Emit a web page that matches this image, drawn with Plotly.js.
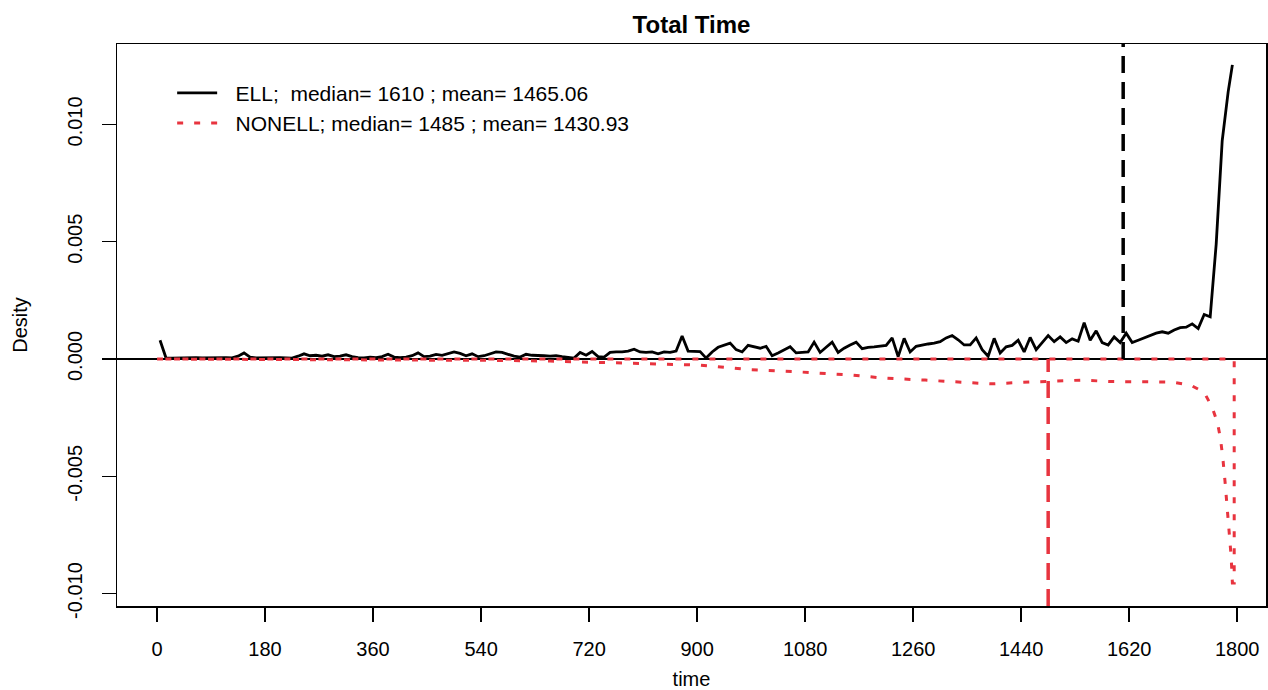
<!DOCTYPE html>
<html>
<head>
<meta charset="utf-8">
<script src="https://cdn.plot.ly/plotly-3.0.1.min.js"></script>
<style>html,body{margin:0;padding:0;background:#fff;}#chart{width:1268px;height:690px;}</style>
</head>
<body>
<div id="chart"></div>
<script>
// ---- data ----
const ellTime = [5,15,25,35,45,55,65,75,85,95,105,115,125,135,145,155,165,175,185,195,205,215,225,235,245,255,265,275,285,295,305,315,325,335,345,355,365,375,385,395,405,415,425,435,445,455,465,475,485,495,505,515,525,535,545,555,565,575,585,595,605,615,625,635,645,655,665,675,685,695,705,715,725,735,745,755,765,775,785,795,805,815,825,835,845,855,865,875,885,895,905,915,925,935,945,955,965,975,985,995,1005,1015,1025,1035,1045,1055,1065,1075,1085,1095,1105,1115,1125,1135,1145,1155,1165,1175,1185,1195,1205,1215,1225,1235,1245,1255,1265,1275,1285,1295,1305,1315,1325,1335,1345,1355,1365,1375,1385,1395,1405,1415,1425,1435,1445,1455,1465,1475,1485,1495,1505,1515,1525,1535,1545,1555,1565,1575,1585,1595,1605,1615,1625,1635,1645,1655,1665,1675,1685,1695,1705,1715,1725,1735,1745,1755,1765,1775,1785,1792];
const ellDensity = [0.00080,0.00004,0.00004,0.00005,0.00004,0.00005,0.00006,0.00005,0.00006,0.00004,0.00008,0.00006,0.00005,0.00012,0.00026,0.00008,0.00005,0.00006,0.00004,0.00005,0.00006,0.00005,0.00004,0.00012,0.00022,0.00014,0.00016,0.00012,0.00018,0.00010,0.00012,0.00018,0.00010,0.00006,0.00005,0.00008,0.00006,0.00010,0.00020,0.00008,0.00006,0.00008,0.00014,0.00026,0.00010,0.00012,0.00020,0.00016,0.00022,0.00030,0.00024,0.00014,0.00022,0.00010,0.00014,0.00022,0.00030,0.00028,0.00020,0.00012,0.00008,0.00020,0.00016,0.00016,0.00014,0.00012,0.00014,0.00010,0.00008,0.00004,0.00028,0.00016,0.00032,0.00010,0.00008,0.00028,0.00030,0.00030,0.00034,0.00042,0.00030,0.00028,0.00030,0.00022,0.00030,0.00028,0.00034,0.00098,0.00034,0.00034,0.00032,0.00004,0.00030,0.00050,0.00058,0.00068,0.00040,0.00030,0.00058,0.00052,0.00046,0.00054,0.00014,0.00026,0.00040,0.00052,0.00026,0.00028,0.00030,0.00072,0.00028,0.00050,0.00072,0.00028,0.00046,0.00060,0.00072,0.00044,0.00050,0.00052,0.00054,0.00058,0.00090,0.00010,0.00088,0.00030,0.00054,0.00060,0.00064,0.00068,0.00074,0.00090,0.00100,0.00082,0.00060,0.00060,0.00090,0.00040,0.00012,0.00088,0.00026,0.00052,0.00058,0.00080,0.00030,0.00092,0.00040,0.00070,0.00100,0.00074,0.00094,0.00070,0.00086,0.00076,0.00155,0.00080,0.00120,0.00070,0.00060,0.00094,0.00070,0.00110,0.00070,0.00080,0.00090,0.00102,0.00110,0.00116,0.00110,0.00124,0.00134,0.00136,0.00150,0.00130,0.00190,0.00180,0.00490,0.00930,0.01140,0.01254];

// NONELL density drawn mirrored (negative), outline closed back along zero
const nonellTime = [0,150,300,450,570,655,740,820,905,990,1070,1155,1210,1280,1340,1390,1455,1490,1540,1590,1640,1690,1722,1745,1758,1767,1772,1776,1780,1783,1787,1790,1792,1795,1795,0];
const nonellDensity = [0,-0.00001,-0.00002,-0.00004,-0.00006,-0.00009,-0.00015,-0.00020,-0.00026,-0.00046,-0.00055,-0.00068,-0.00081,-0.00090,-0.00098,-0.00106,-0.00098,-0.00094,-0.00090,-0.00096,-0.00098,-0.00098,-0.00111,-0.00142,-0.00205,-0.00270,-0.00337,-0.00420,-0.00530,-0.00630,-0.00730,-0.00845,-0.00955,-0.00955,0,0];

const ellMedian = 1610, ellMean = 1465.06;
const nonellMedian = 1485, nonellMean = 1430.93;
const xTicks = [0,180,360,540,720,900,1080,1260,1440,1620,1800];
const yTicks = [-0.010,-0.005,0,0.005,0.010];
const yTickLabels = ["-0.010","-0.005","0.000","0.005","0.010"];
const baseline = 0;

const FONT = "Liberation Sans, Arial, sans-serif";
const RED = "#e8343f";
const PAD = "\u00a0\u00a0\u200a";

const traces = [
  {
    x: ellTime, y: ellDensity, type: "scatter", mode: "lines",
    name: PAD + "ELL;\u00a0 median= " + ellMedian + " ; mean= " + ellMean.toFixed(2),
    line: {color: "#000000", width: 2.8}
  },
  {
    x: nonellTime, y: nonellDensity, type: "scatter", mode: "lines",
    name: PAD + "NONELL; median= " + nonellMedian + " ; mean= " + nonellMean.toFixed(2),
    line: {color: RED, width: 3, dash: "6px,11px"}
  }
];

const layout = {
  width: 1268, height: 690,
  margin: {l: 117, r: 2, t: 44, b: 84},
  paper_bgcolor: "#ffffff", plot_bgcolor: "#ffffff",
  font: {family: FONT, color: "#000", size: 20},
  title: {text: "<b>Total Time</b>", font: {family: FONT, size: 24, color: "#000"},
          x: 0.5, xref: "paper", xanchor: "center", y: 0.964, yanchor: "middle"},
  showlegend: true,
  legend: {x: 0.048, y: 0.949, xanchor: "left", yanchor: "top", itemwidth: 40,
           bgcolor: "rgba(0,0,0,0)", borderwidth: 0,
           font: {family: FONT, size: 21, color: "#000"}, tracegroupgap: 0},
  xaxis: {
    range: [-66.7, 1848], tickmode: "array", tickvals: xTicks,
    ticks: "outside", ticklen: 14, tickwidth: 1.5, tickcolor: "#000",
    showline: true, mirror: true, linecolor: "#000", linewidth: 1.5,
    showgrid: false, zeroline: false, ticklabelstandoff: 10,
    tickfont: {family: FONT, size: 20, color: "#000"},
    title: {text: "time", font: {family: FONT, size: 20, color: "#000"}, standoff: 16}
  },
  yaxis: {
    range: [-0.01053, 0.01343], tickmode: "array", tickvals: yTicks, ticktext: yTickLabels,
    tickangle: -90,
    ticks: "outside", ticklen: 14, tickwidth: 1.5, tickcolor: "#000",
    showline: true, mirror: true, linecolor: "#000", linewidth: 1.5,
    showgrid: false, zeroline: false, ticklabelstandoff: 12,
    tickfont: {family: FONT, size: 20, color: "#000"},
    title: {text: "Desity", font: {family: FONT, size: 20, color: "#000"}, standoff: 30}
  },
  shapes: [
    {type: "line", xref: "paper", yref: "y", x0: 0, x1: 1, y0: baseline, y1: baseline,
     line: {color: "#000", width: 2}, layer: "below"},
    {type: "line", xref: "x", yref: "y", x0: ellMedian, x1: ellMedian, y0: baseline, y1: 0.01343,
     line: {color: "#000", width: 3.5, dash: "17px,9px"}},
    {type: "line", xref: "x", yref: "y", x0: nonellMedian, x1: nonellMedian, y0: -0.01053, y1: baseline,
     line: {color: RED, width: 3.5, dash: "17px,9px"}}
  ]
};

Plotly.newPlot("chart", traces, layout, {displayModeBar: false, staticPlot: true});
</script>
</body>
</html>
